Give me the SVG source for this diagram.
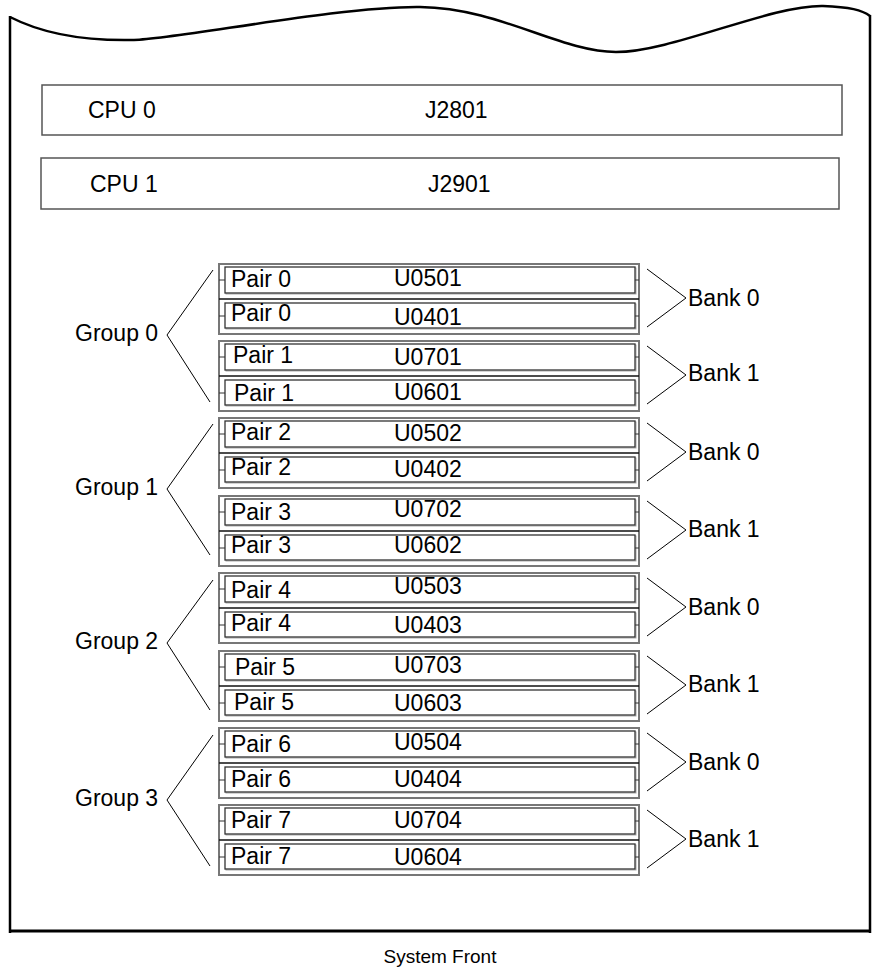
<svg xmlns="http://www.w3.org/2000/svg" width="879" height="978" viewBox="0 0 879 978">
<style>
text{font-family:"Liberation Sans",Arial,sans-serif;font-size:23px;fill:#000}
.frame{fill:none;stroke:#000;stroke-width:2.5}
.cpu{fill:#fff;stroke:#555;stroke-width:1.5}
.bank{fill:#fff;stroke:#777;stroke-width:2}
.sep{stroke:#111;stroke-width:1.5}
.dimm{fill:#fff;stroke:#333;stroke-width:1.3}
.shadow{fill:none;stroke:#aaa;stroke-width:1}
.tick{stroke:#333;stroke-width:1}
.br{fill:none;stroke:#000;stroke-width:1}
</style>
<defs>
<g id="bankShape">
<rect class="bank" x="219" y="0" width="420" height="70"/>
<line class="sep" x1="219" y1="35" x2="639" y2="35"/>
<rect class="shadow" x="226" y="4" width="410" height="26"/>
<rect class="dimm" x="225" y="3" width="410" height="26"/>
<rect class="shadow" x="226" y="40" width="410" height="25"/>
<rect class="dimm" x="225" y="39" width="410" height="25"/>
<line class="tick" x1="219" y1="16" x2="225" y2="16"/>
<line class="tick" x1="219" y1="52" x2="225" y2="52"/>
<line class="tick" x1="635" y1="16" x2="639" y2="16"/>
<line class="tick" x1="635" y1="52" x2="639" y2="52"/>
</g>
</defs>
<g id="frame">
<path class="frame" d="M10,17 C45,35 90,41 134,40 S340,6 420,7 S560,52 616,52 S770,5 823,6 C850,7 862,10 870,16"/>
<line class="frame" x1="10" y1="16" x2="10" y2="933"/>
<line class="frame" x1="870" y1="15" x2="870" y2="933"/>
<line x1="9" y1="931" x2="871" y2="931" stroke="#000" stroke-width="3"/>
</g>
<g id="cpu0">
<rect class="cpu" x="42" y="85" width="800" height="50"/>
<text x="88" y="118">CPU 0</text>
<text x="425" y="118">J2801</text>
</g>
<g id="cpu1">
<rect class="cpu" x="41" y="158" width="798" height="51"/>
<text x="90" y="192">CPU 1</text>
<text x="428" y="192">J2901</text>
</g>
<g id="bank-g0-b0"><use href="#bankShape" y="264"/>
<text x="231" y="287">Pair 0</text><text x="394" y="286">U0501</text>
<text x="231" y="321">Pair 0</text><text x="394" y="325">U0401</text></g>
<g id="bank-g0-b1"><use href="#bankShape" y="341"/>
<text x="233" y="363">Pair 1</text><text x="394" y="365">U0701</text>
<text x="234" y="401">Pair 1</text><text x="394" y="400">U0601</text></g>
<g id="bank-g1-b0"><use href="#bankShape" y="418"/>
<text x="231" y="440">Pair 2</text><text x="394" y="441">U0502</text>
<text x="231" y="475">Pair 2</text><text x="394" y="477">U0402</text></g>
<g id="bank-g1-b1"><use href="#bankShape" y="496"/>
<text x="231" y="520">Pair 3</text><text x="394" y="517">U0702</text>
<text x="231" y="553">Pair 3</text><text x="394" y="553">U0602</text></g>
<g id="bank-g2-b0"><use href="#bankShape" y="573"/>
<text x="231" y="598">Pair 4</text><text x="394" y="594">U0503</text>
<text x="231" y="631">Pair 4</text><text x="394" y="633">U0403</text></g>
<g id="bank-g2-b1"><use href="#bankShape" y="651"/>
<text x="235" y="675">Pair 5</text><text x="394" y="673">U0703</text>
<text x="234" y="710">Pair 5</text><text x="394" y="711">U0603</text></g>
<g id="bank-g3-b0"><use href="#bankShape" y="728"/>
<text x="231" y="752">Pair 6</text><text x="394" y="750">U0504</text>
<text x="231" y="787">Pair 6</text><text x="394" y="787">U0404</text></g>
<g id="bank-g3-b1"><use href="#bankShape" y="805"/>
<text x="231" y="828">Pair 7</text><text x="394" y="828">U0704</text>
<text x="231" y="864">Pair 7</text><text x="394" y="865">U0604</text></g>
<g id="group0"><text x="75" y="341">Group 0</text></g>
<g id="group1"><text x="75" y="495">Group 1</text></g>
<g id="group2"><text x="75" y="649">Group 2</text></g>
<g id="group3"><text x="75" y="806">Group 3</text></g>
<g id="bank-labels">
<text x="688" y="306">Bank 0</text>
<text x="688" y="381">Bank 1</text>
<text x="688" y="460">Bank 0</text>
<text x="688" y="537">Bank 1</text>
<text x="688" y="615">Bank 0</text>
<text x="688" y="692">Bank 1</text>
<text x="688" y="770">Bank 0</text>
<text x="688" y="847">Bank 1</text>
</g>
<g id="connectors">
<polyline class="br" points="213,270 167,335 210,402"/>
<polyline class="br" points="213,424 167,489 210,555"/>
<polyline class="br" points="213,580 167,643 210,710"/>
<polyline class="br" points="213,735 167,800 210,866"/>
<polyline class="br" points="647,269 686,298 647,327"/>
<polyline class="br" points="647,346 686,375 647,404"/>
<polyline class="br" points="647,423 686,452 647,481"/>
<polyline class="br" points="647,501 686,530 647,559"/>
<polyline class="br" points="647,578 686,607 647,636"/>
<polyline class="br" points="647,656 686,685 647,714"/>
<polyline class="br" points="647,733 686,762 647,791"/>
<polyline class="br" points="647,810 686,839 647,868"/>
</g>
<text x="440" y="963" text-anchor="middle" style="font-size:19px">System Front</text>
</svg>
